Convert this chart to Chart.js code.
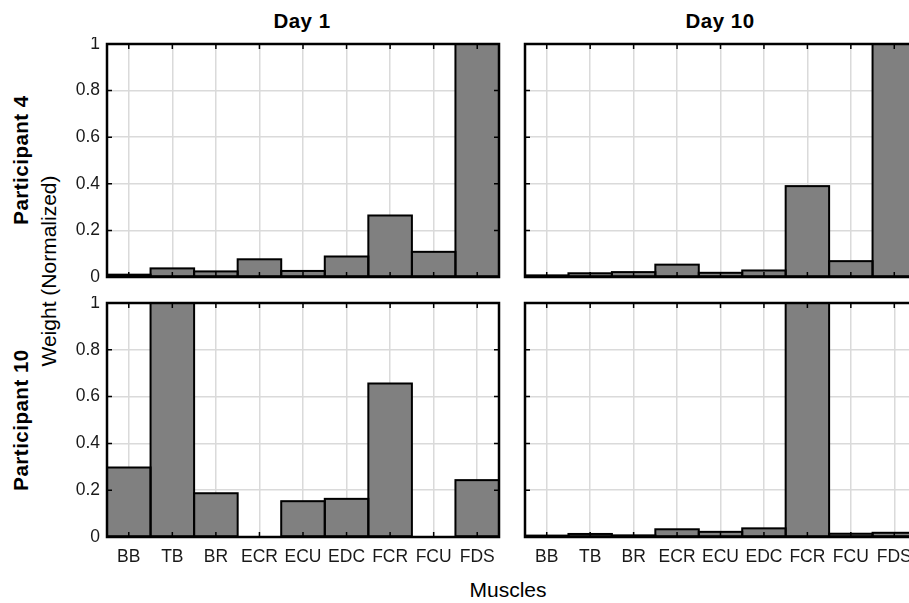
<!DOCTYPE html>
<html>
<head>
<meta charset="utf-8">
<script src="https://cdn.jsdelivr.net/npm/chart.js@4.4.1/dist/chart.umd.min.js"></script>
<style>
  body { margin: 0; background: #fff; }
  #fig { position: relative; width: 909px; height: 603px; overflow: hidden;
         font-family: 'Liberation Sans', Arial, sans-serif; color: #000; }
  .panel { position: absolute; }
  .lbl { position: absolute; white-space: nowrap; line-height: 1; font-size: 21px;
         transform: translate(-50%, -50%); }
  .rot { transform: translate(-50%, -50%) rotate(-90deg); }
  .b { font-weight: bold; font-size: 20.5px; letter-spacing: 0.5px; }
</style>
</head>
<body>
<div id="fig">
  <canvas id="p4d1" class="panel" width="437" height="246" style="left:68px;top:37px"></canvas>
  <canvas id="p4d10" class="panel" width="405" height="246" style="left:517px;top:37px"></canvas>
  <canvas id="p10d1" class="panel" width="437" height="273" style="left:68px;top:296px"></canvas>
  <canvas id="p10d10" class="panel" width="405" height="273" style="left:517px;top:296px"></canvas>

  <div class="lbl b" style="left:302px;top:21px">Day 1</div>
  <div class="lbl b" style="left:720px;top:21px">Day 10</div>
  <div class="lbl b rot" style="left:21px;top:160px">Participant 4</div>
  <div class="lbl b rot" style="left:21px;top:420px">Participant 10</div>
  <div class="lbl rot" style="left:48px;top:271px">Weight (Normalized)</div>
  <div class="lbl" style="left:508px;top:589px">Muscles</div>
</div>
<script>
// values
const muscles = ['BB', 'TB', 'BR', 'ECR', 'ECU', 'EDC', 'FCR', 'FCU', 'FDS'];
const p4Day1 = [0.010, 0.037, 0.024, 0.076, 0.026, 0.088, 0.264, 0.108, 1];
const p4Day10 = [0.007, 0.016, 0.021, 0.053, 0.018, 0.028, 0.390, 0.068, 1];
const p10Day1 = [0.297, 1, 0.187, 0, 0.153, 0.163, 0.656, 0, 0.243];
const p10Day10 = [0.006, 0.013, 0.007, 0.033, 0.022, 0.037, 1, 0.014, 0.018];
const yStep = 0.2;

const FONT = "'Liberation Sans', Arial, sans-serif";

// bar outlines: chart.js shrinks borders on very short bars, so stroke them here
const outlinePlugin = {
    id: 'outline',
    afterDatasetsDraw(chart) {
        const { ctx, chartArea } = chart;
        ctx.save();
        ctx.beginPath();
        ctx.rect(chartArea.left, chartArea.top, chartArea.right - chartArea.left, chartArea.bottom - chartArea.top);
        ctx.clip();
        ctx.strokeStyle = '#000';
        ctx.lineWidth = 2;
        chart.getDatasetMeta(0).data.forEach(bar => {
            const { x, y, base, width } = bar.getProps(['x', 'y', 'base', 'width']);
            ctx.strokeRect(x - width / 2, y, width, base - y);
        });
        ctx.restore();
    }
};

// box around the axes + inward tick marks (matlab look)
const framePlugin = {
    id: 'frame',
    afterDraw(chart) {
        const { ctx, chartArea, scales } = chart;
        const { left, right, top, bottom } = chartArea;
        const len = 5;
        ctx.save();
        ctx.strokeStyle = '#000';
        ctx.lineWidth = 1.5;
        ctx.beginPath();
        for (let i = 0; i < scales.x.ticks.length; i++) {
            const px = scales.x.getPixelForTick(i);
            ctx.moveTo(px, bottom); ctx.lineTo(px, bottom - len);
            ctx.moveTo(px, top); ctx.lineTo(px, top + len);
        }
        for (let i = 0; i < scales.y.ticks.length; i++) {
            const py = scales.y.getPixelForTick(i);
            ctx.moveTo(left, py); ctx.lineTo(left + len, py);
            ctx.moveTo(right, py); ctx.lineTo(right - len, py);
        }
        ctx.stroke();
        ctx.lineWidth = 2.5;
        ctx.strokeRect(left, top, right - left, bottom - top);
        ctx.restore();
    }
};

function makePanel(canvasId, values, showX, showY) {
    const ctx = document.getElementById(canvasId);
    return new Chart(ctx, {
        type: 'bar',
        data: {
            labels: muscles,
            datasets: [{
                data: values,
                backgroundColor: '#808080',
                borderWidth: 0,
                barPercentage: 1,
                categoryPercentage: 1
            }]
        },
        options: {
            responsive: false,
            animation: false,
            devicePixelRatio: 1,
            layout: { padding: { top: 7, right: 6, bottom: 0, left: 0 } },
            plugins: { legend: { display: false }, tooltip: { enabled: false } },
            scales: {
                x: {
                    grid: { offset: false, color: '#dadada', lineWidth: 1.5, drawTicks: false },
                    border: { display: false },
                    ticks: {
                        display: showX,
                        padding: 10,
                        color: '#1a1a1a',
                        font: { family: FONT, size: 17.5 },
                        maxRotation: 0,
                        autoSkip: false
                    },
                    afterFit: s => {
                        s.height = showX ? 32 : 6;
                        s.paddingLeft = 0; s.paddingRight = 0;
                    }
                },
                y: {
                    min: 0,
                    max: 1,
                    grid: { color: '#dadada', lineWidth: 1.5, drawTicks: false },
                    border: { display: false },
                    ticks: {
                        display: showY,
                        stepSize: yStep,
                        padding: 7,
                        color: '#1a1a1a',
                        font: { family: FONT, size: 17.5 },
                        callback: v => String(Math.round(v * 10) / 10)
                    },
                    afterFit: s => {
                        s.width = showY ? 39 : 8;
                        s.paddingTop = 0; s.paddingBottom = 0;
                    }
                }
            }
        },
        plugins: [outlinePlugin, framePlugin]
    });
}

makePanel('p4d1', p4Day1, false, true);
makePanel('p4d10', p4Day10, false, false);
makePanel('p10d1', p10Day1, true, true);
makePanel('p10d10', p10Day10, true, false);
</script>
</body>
</html>
